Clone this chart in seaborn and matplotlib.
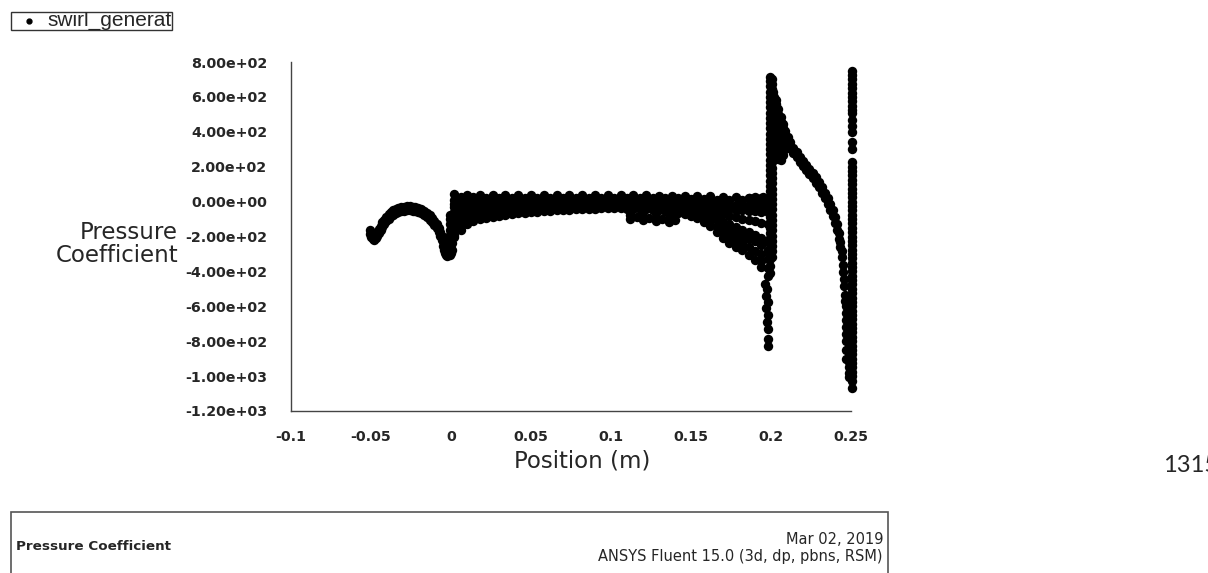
import pandas as pd
import seaborn as sns
import matplotlib.pyplot as plt
from matplotlib.lines import Line2D
from matplotlib.patches import Rectangle
from matplotlib.ticker import FuncFormatter, MultipleLocator

# upstream bulge (x < 0), two rows of nodes
curve_x = [-0.0506, -0.0498, -0.0490, -0.0480, -0.0470, -0.0460, -0.0450, -0.0440, -0.0430, -0.0420,
           -0.0405, -0.0390, -0.0375, -0.0360, -0.0345, -0.0330, -0.0312, -0.0294, -0.0276, -0.0258,
           -0.0240, -0.0222, -0.0204, -0.0186, -0.0168, -0.0150, -0.0134, -0.0118, -0.0104, -0.0090,
           -0.0078, -0.0066, -0.0056]
curve_upper = [-162, -180, -192, -197, -187, -172, -155, -137, -119, -103,
               -87, -73, -61, -51, -43, -37, -32, -29, -27, -27,
               -29, -32, -37, -44, -53, -65, -79, -95, -111, -129,
               -149, -172, -197]
curve_lower = [-186, -202, -216, -221, -211, -196, -179, -161, -143, -127,
               -111, -97, -85, -75, -67, -61, -56, -53, -51, -51,
               -53, -56, -61, -68, -77, -89, -103, -119, -135, -153,
               -173, -196, -221]

# dip just before the swirler inlet
dip_x = [-0.0050, -0.0050, -0.0044, -0.0044, -0.0038, -0.0038, -0.0032, -0.0032, -0.0026, -0.0026,
         -0.0020, -0.0020, -0.0014, -0.0014, -0.0008, -0.0008, -0.0008, -0.0008, -0.0008, -0.0008,
         -0.0008, -0.0008, -0.0008, 0.0000, 0.0000, 0.0000, 0.0000, 0.0000, 0.0006, 0.0006, 0.0006]
dip_y = [-225, -255, -245, -280, -260, -295, -270, -305, -280, -310,
         -285, -305, -265, -295, -75, -100, -130, -160, -190, -220,
         -250, -280, -305, -180, -210, -240, -270, -295, -200, -240, -280]

# main band through the swirler, one value per node row
band_x = [0.002, 0.006, 0.010, 0.014, 0.018, 0.022, 0.026, 0.030, 0.034, 0.038,
          0.042, 0.046, 0.050, 0.054, 0.058, 0.062, 0.066, 0.070, 0.074, 0.078,
          0.082, 0.086, 0.090, 0.094, 0.098, 0.102, 0.106, 0.110, 0.114, 0.118,
          0.122, 0.126, 0.130, 0.134, 0.138, 0.142, 0.146, 0.150, 0.154, 0.158,
          0.162, 0.166, 0.170, 0.174, 0.178, 0.182, 0.186, 0.190, 0.194, 0.198]
band_top = [42, 26, 40, 24, 38, 22, 39, 23, 37, 21,
            38, 22, 37, 20, 36, 22, 38, 23, 36, 20,
            37, 22, 36, 21, 37, 22, 36, 20, 35, 22,
            36, 20, 34, 19, 33, 18, 32, 17, 31, 16,
            30, 12, 28, 10, 26, 8, 22, 4, 20, 0]
band_upper = [8, 2, 6, 0, 4, -1, 5, 0, 3, -2,
              4, -1, 2, -3, 3, -1, 4, 0, 2, -3,
              3, -1, 2, -2, 3, -1, 2, -3, 1, -2,
              2, -3, 0, -5, -1, -7, -4, -10, -6, -13,
              -9, -15, -13, -19, -17, -23, -21, -27, -25, -32]
band_core = [-15, -18, -20, -18, -20, -18, -20, -19, -20, -19,
             -20, -19, -20, -19, -20, -19, -20, -19, -20, -19,
             -20, -19, -20, -19, -20, -19, -20, -19, -20, -19,
             -20, -20, -22, -22, -24, -25, -28, -30, -32, -35,
             -38, -40, -42, -45, -48, -50, -52, -55, -58, -60]
band_lower = [-60, -55, -50, -45, -42, -40, -38, -36, -35, -34,
              -33, -32, -31, -30, -29, -28, -27, -26, -26, -25,
              -25, -24, -24, -24, -24, -24, -24, -25, -25, -26,
              -27, -28, -30, -33, -37, -42, -48, -55, -62, -72,
              -85, -100, -115, -130, -145, -160, -175, -190, -210, -230]
band_bottom = [-205, -160, -127, -112, -101, -93, -86, -80, -75, -71,
               -67, -64, -61, -58, -55, -53, -51, -49, -47, -45,
               -43, -41, -40, -39, -39, -39, -39, -40, -41, -43,
               -45, -47, -49, -52, -57, -63, -71, -81, -95, -115,
               -140, -175, -210, -237, -260, -280, -305, -335, -375, -425]

# extra nodes where the band is thick
inlet_x = [0.002, 0.002, 0.002, 0.002, 0.002, 0.006, 0.006, 0.006, 0.006, 0.010,
           0.010, 0.014, 0.014, 0.018, 0.018, 0.022, 0.022, 0.026, 0.026, 0.030,
           0.034, 0.038, 0.042]
inlet_y = [-32, -95, -130, -165, -190, -30, -85, -115, -140, -80,
           -106, -70, -92, -65, -84, -62, -78, -58, -72, -58,
           -55, -53, -50]
outlet_x = [0.158, 0.162, 0.162, 0.166, 0.166, 0.170, 0.170, 0.170, 0.174, 0.174,
            0.174, 0.178, 0.178, 0.178, 0.182, 0.182, 0.182, 0.186, 0.186, 0.186,
            0.190, 0.190, 0.190, 0.194, 0.194, 0.194, 0.194, 0.198, 0.198, 0.198,
            0.198]
outlet_y = [-95, -55, -112, -65, -138, -72, -148, -180, -80, -162,
            -200, -90, -182, -220, -100, -198, -240, -105, -212, -260,
            -110, -228, -282, -120, -248, -298, -338, -130, -278, -328,
            -378]
stray_x = [0.112, 0.112, 0.116, 0.120, 0.120, 0.124, 0.128, 0.128, 0.132, 0.136,
           0.136, 0.140, 0.1965, 0.1975, 0.1970, 0.1980, 0.1970, 0.1980, 0.1975, 0.1980,
           0.1980, 0.1980, 0.1860, 0.1900, 0.1930, 0.1950]
stray_y = [-75, -100, -90, -82, -108, -95, -88, -112, -100, -92,
           -115, -105, -470, -500, -540, -575, -610, -650, -690, -730,
           -790, -830, 18, 24, 8, 26]

# vertical spike at the swirler exit (x = 0.2)
spike_x = [0.1992, 0.2008]
spike_a = [715, 690, 660, 630, 600, 570, 540, 510, 480, 450,
           420, 390, 360, 330, 300, 270, 240, 210, 180, 150,
           120, 90, 60, 30, 0, -30, -60, -90, -120, -150,
           -180, -210, -240, -270, -300, -330, -370, -410]
spike_b = [700, 675, 645, 615, 585, 555, 525, 495, 465, 435,
           405, 375, 345, 315, 285, 255, 225, 195, 165, 135,
           105, 75, 45, 15, -15, -45, -75, -105, -135, -165,
           -195, -225, -255, -285, -315]
wedge_x = [0.2016, 0.2016, 0.2016, 0.2016, 0.2016, 0.2016, 0.2030, 0.2030, 0.2030, 0.2030,
           0.2030, 0.2030, 0.2045, 0.2045, 0.2045, 0.2045, 0.2045, 0.2060, 0.2060, 0.2060,
           0.2060, 0.2060, 0.2075, 0.2075, 0.2075, 0.2075, 0.2090, 0.2090, 0.2090]
wedge_y = [300, 360, 420, 480, 540, 600, 270, 330, 390, 450,
           510, 560, 245, 300, 360, 420, 480, 240, 290, 350,
           410, 455, 265, 320, 375, 420, 300, 350, 390]

# recovery curve downstream of the swirler
decay_x = [0.2015, 0.2030, 0.2045, 0.2060, 0.2075, 0.2090, 0.2105, 0.2120, 0.2140, 0.2160,
           0.2180, 0.2200, 0.2220, 0.2240, 0.2260, 0.2280, 0.2300, 0.2320, 0.2340, 0.2355,
           0.2370, 0.2385, 0.2400, 0.2412, 0.2424, 0.2434, 0.2442, 0.2450, 0.2456, 0.2462]
decay_hi = [630, 580, 530, 485, 445, 405, 370, 340, 310, 285,
            258, 234, 211, 188, 164, 139, 111, 82, 51, 21,
            -14, -49, -89, -129, -179, -229, -284, -364, -444, -534]
decay_lo = [600, 550, 500, 455, 415, 375, 340, 310, 280, 255,
            228, 204, 181, 158, 134, 109, 81, 52, 19, -13,
            -47, -82, -122, -162, -212, -262, -320, -402, -482, -572]

# outlet plane (x = 0.25)
exit_x = [0.2504, 0.2486, 0.2468]
exit_outer = [750, 725, 700, 675, 650, 625, 600, 575, 550, 525,
              505, 470, 435, 400, 340, 300, 225, 200, 175, 150,
              125, 100, 75, 50, 25, 0, -25, -50, -75, -100,
              -125, -150, -175, -200, -225, -250, -275, -300, -325, -350,
              -375, -400, -425, -450, -475, -500, -525, -550, -575, -600,
              -625, -650, -675, -700, -725, -750, -775, -800, -825, -850,
              -875, -900, -925, -950, -975, -1000, -1030, -1070]
exit_mid = [-540, -575, -610, -645, -680, -710, -740, -770, -800, -830,
            -860, -890, -920, -950, -980, -1005]
exit_inner = [-600, -640, -680, -720, -760, -800, -850, -900]

y_ticks = [-1200, -1000, -800, -600, -400, -200, 0, 200, 400, 600, 800]
x_ticks = [-0.1, -0.05, 0, 0.05, 0.1, 0.15, 0.2, 0.25]


def build_frame():
    parts = [
        (curve_x, curve_upper), (curve_x, curve_lower), (dip_x, dip_y),
        (band_x, band_top), (band_x, band_upper), (band_x, band_core),
        (band_x, band_lower), (band_x, band_bottom),
        (inlet_x, inlet_y), (outlet_x, outlet_y), (stray_x, stray_y),
        ([spike_x[0]] * len(spike_a), spike_a), ([spike_x[1]] * len(spike_b), spike_b),
        (wedge_x, wedge_y), (decay_x, decay_hi), (decay_x, decay_lo),
        ([exit_x[0]] * len(exit_outer), exit_outer),
        ([exit_x[1]] * len(exit_mid), exit_mid),
        ([exit_x[2]] * len(exit_inner), exit_inner),
    ]
    frames = [pd.DataFrame({"position": xs, "cp": ys}) for xs, ys in parts]
    return pd.concat(frames, ignore_index=True)


def fmt_x(v, _):
    v = round(v, 4)
    return "0" if abs(v) < 1e-9 else f"{v:g}"


df = build_frame()

sns.set_style("white")
plt.rcParams["font.family"] = ["DejaVu Sans"]

W, H = 1208, 573
fig = plt.figure(figsize=(W / 100, H / 100), dpi=100)
ax = fig.add_axes([291 / W, 1 - 411 / H, 560 / W, 349 / H])

sns.scatterplot(data=df, x="position", y="cp", color="black", s=46,
                linewidth=0, legend=False, clip_on=False, ax=ax)

ax.set_xlim(-0.1, 0.25)
ax.set_ylim(-1200, 800)
ax.set_xticks(x_ticks)
ax.set_yticks(y_ticks)
ax.xaxis.set_minor_locator(MultipleLocator(0.025))
ax.yaxis.set_minor_locator(MultipleLocator(100))
ax.yaxis.set_major_formatter(FuncFormatter(lambda v, _: f"{v:.2e}"))
ax.xaxis.set_major_formatter(FuncFormatter(fmt_x))
ax.tick_params(axis="y", which="major", direction="out", length=10, width=1,
               color="#444444", pad=7, labelsize=10.3)
ax.tick_params(axis="y", which="minor", direction="out", length=5, width=1, color="#444444")
ax.tick_params(axis="x", which="both", direction="out", length=4, width=1,
               color="#444444", pad=10, labelsize=10.3)
for lab in ax.get_xticklabels() + ax.get_yticklabels():
    lab.set_fontweight("bold")
for side in ["top", "right"]:
    ax.spines[side].set_visible(False)
for side in ["left", "bottom"]:
    ax.spines[side].set_color("#444444")
    ax.spines[side].set_linewidth(1)
ax.set_xlabel("")
ax.set_ylabel("")

fig.text(582 / W, 1 - 461 / H, "Position (m)", ha="center", va="center", fontsize=16.5)
fig.text(178 / W, 1 - 244 / H, "Pressure\nCoefficient", ha="right", va="center",
         multialignment="right", fontsize=16.5, linespacing=0.95)

# clipped legend box, top left
leg_box = Rectangle((11 / W, 1 - 29.5 / H), 161 / W, 17.5 / H, transform=fig.transFigure,
                    fill=False, edgecolor="#333333", linewidth=1)
fig.add_artist(leg_box)
fig.add_artist(Line2D([29 / W], [1 - 20.5 / H], marker="o", markersize=3.5,
                      color="black", transform=fig.transFigure))
leg_text = fig.text(47 / W, 1 - 26 / H, "swirl_generator", ha="left", va="baseline",
                    fontsize=15, family=["Liberation Sans", "DejaVu Sans"])
leg_text.set_clip_path(leg_box)

fig.text(1163 / W, 1 - 466 / H, "1315", ha="left", va="center", fontsize=17,
         family=["Lato", "DejaVu Sans"])

# info box at the bottom
info_box = Rectangle((11 / W, -0.05), 877 / W, 0.05 + (573 - 512) / H,
                     transform=fig.transFigure, fill=False, edgecolor="#555555", linewidth=1.2)
fig.add_artist(info_box)
fig.text(16 / W, 1 - 546 / H, "Pressure Coefficient", ha="left", va="center",
         fontsize=9.7, fontweight="bold")
fig.text(883 / W, 1 - 540 / H, "Mar 02, 2019", ha="right", va="center", fontsize=10.5)
fig.text(883 / W, 1 - 556 / H, "ANSYS Fluent 15.0 (3d, dp, pbns, RSM)", ha="right",
         va="center", fontsize=10.5)

fig.savefig("out.png", dpi=100)
